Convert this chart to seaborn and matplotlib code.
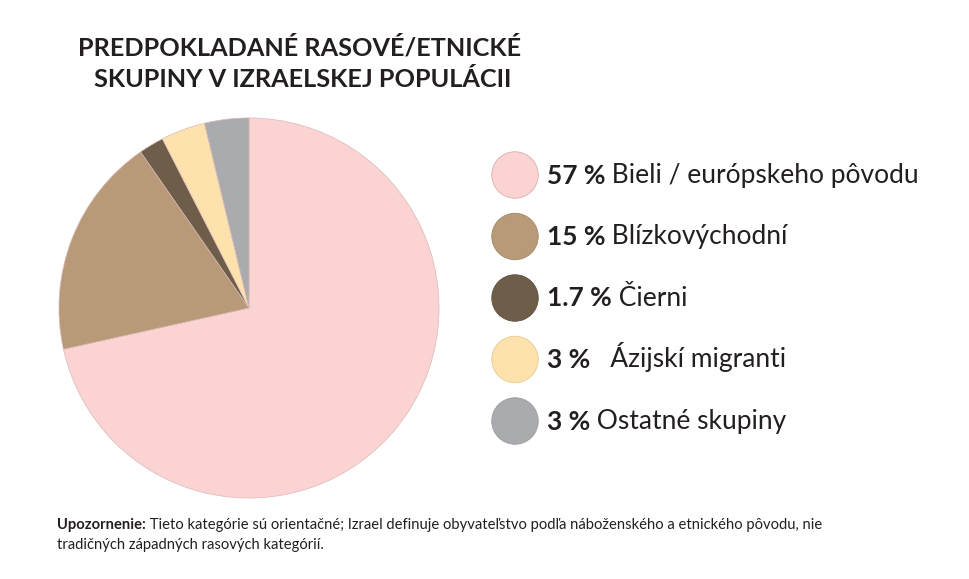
import matplotlib
matplotlib.use("Agg")
import matplotlib.pyplot as plt
import seaborn as sns
import pandas as pd

# ---- data ----
categories = ["Bieli / európskeho pôvodu", "Blízkovýchodní", "Čierni",
              "  Ázijskí migranti", "Ostatné skupiny"]
percent_labels = ["57 %", "15 %", "1.7 %", "3 %", "3 %"]
values = [57, 15, 1.7, 3, 3]
colors = ["#FBD3D2", "#B89A78", "#6E5D49", "#FEE2AE", "#AAABAE"]
edge_colors = ["#D8AFAD", "#A3896B", "#5E4F3E", "#E5C98F", "#9A9B9E"]

title_lines = ["PREDPOKLADANÉ RASOVÉ/ETNICKÉ", "SKUPINY V IZRAELSKEJ POPULÁCII"]
note_bold = "Upozornenie:"
note_text = (" Tieto kategórie sú orientačné; Izrael definuje obyvateľstvo podľa "
             "náboženského a etnického pôvodu, nie")
note_text2 = "tradičných západných rasových kategórií."

sns.set_theme(style="white")
plt.rcParams["font.family"] = ["Lato", "DejaVu Sans"]

W, H = 969, 579
fig = plt.figure(figsize=(W / 100, H / 100), dpi=100)
fig.patch.set_facecolor("white")

# ---- pie ----
cx, cy, r = 249, 308, 191
ax = fig.add_axes([(cx - r) / W, (H - cy - r) / H, 2 * r / W, 2 * r / H])
wedges, _ = ax.pie(values, colors=colors, startangle=90, counterclock=False,
                   normalize=True,
                   wedgeprops=dict(linewidth=0.5, edgecolor="#D9B9B7"))
ax.set_xlim(-1.005, 1.005)
ax.set_ylim(-1.005, 1.005)
ax.set_aspect("equal")
ax.axis("off")

# ---- legend (overlay axes in pixel coords) ----
lax = fig.add_axes([0, 0, 1, 1])
lax.set_xlim(0, W)
lax.set_ylim(H, 0)
lax.axis("off")
lax.patch.set_alpha(0)

row0, step = 175, 61.5
leg = pd.DataFrame({
    "x": [515] * len(categories),
    "y": [row0 + step * i for i in range(len(categories))],
    "cat": categories,
})
sns.scatterplot(data=leg, x="x", y="y", hue="cat", palette=colors,
                s=1120, edgecolor=edge_colors, linewidth=0.6, legend=False, ax=lax)

for i, (p, c) in enumerate(zip(percent_labels, categories)):
    y = row0 + step * i + 8.5
    t = lax.text(547, y, p, fontsize=19, fontweight="bold", color="#231F20",
                 va="baseline", ha="left")
    lax.annotate(" " + c, xy=(1, 0), xycoords=t, xytext=(0, 0),
                 textcoords="offset points", fontsize=19, color="#231F20",
                 va="bottom", ha="left")

# ---- title ----
lax.text(300, 55, title_lines[0], fontsize=18.2, fontweight="bold",
         color="#231F20", ha="center", va="baseline")
lax.text(303, 87, title_lines[1], fontsize=18.2, fontweight="bold",
         color="#231F20", ha="center", va="baseline")

# ---- footnote ----
tb = lax.text(57, 529, note_bold, fontsize=10.6, fontweight="bold",
              color="#231F20", va="baseline", ha="left")
lax.annotate(note_text, xy=(1, 0), xycoords=tb, xytext=(0, 0),
             textcoords="offset points", fontsize=10.6, color="#231F20",
             va="bottom", ha="left")
lax.text(57, 549, note_text2, fontsize=10.6, color="#231F20",
         va="baseline", ha="left")

fig.savefig("out.png", dpi=100, facecolor="white")
